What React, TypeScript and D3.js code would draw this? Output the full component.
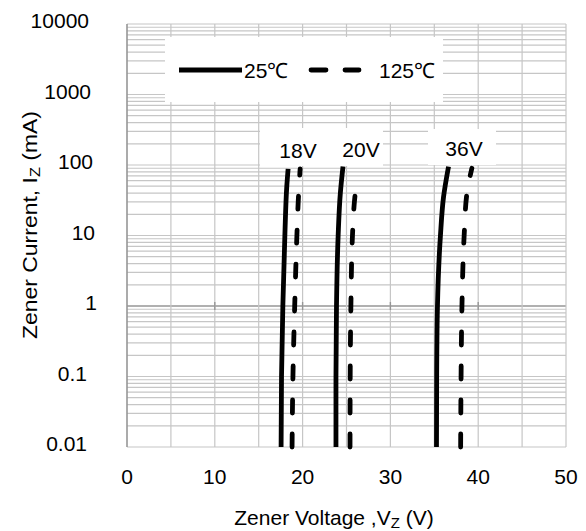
import React from 'react';
import * as d3 from 'd3';

// x ticks (V) and y decades (mA)
const xTicks = [0, 10, 20, 30, 40, 50];
const xGrid = [0, 5, 10, 15, 20, 25, 30, 35, 40, 45, 50];
const yDecades = [0.01, 0.1, 1, 10, 100, 1000, 10000];
const yLabels = ['0.01', '0.1', '1', '10', '100', '1000', '10000'];

// curves: [current mA, voltage V]
const v18_25 = [[0.01, 17.55], [0.1, 17.6], [1, 17.75], [10, 17.98], [50, 18.2], [88, 18.35]];
const v18_125 = [[0.01, 18.8], [0.1, 18.9], [1, 19.1], [10, 19.35], [30, 19.5], [88, 19.72]];
const v20_25 = [[0.01, 23.8], [0.1, 23.8], [1, 23.86], [10, 24.05], [40, 24.3], [95, 24.6]];
const v20_125 = [[0.01, 25.4], [0.1, 25.42], [1, 25.5], [10, 25.68], [30, 25.9], [65, 26.2]];
const v36_25 = [[0.01, 35.25], [0.1, 35.27], [1, 35.36], [10, 35.7], [35, 36.05], [95, 36.62]];
const v36_125 = [[0.01, 38.0], [0.1, 38.05], [1, 38.15], [10, 38.4], [40, 38.72], [90, 39.28]];

const solidCurves = [v18_25, v20_25, v36_25];
const dashedCurves = [v18_125, v20_125, v36_125];

const W = 586;
const H = 531;
const left = 127, right = 566, top = 24, bottom = 447;
const font = '"Liberation Sans", Arial, sans-serif';
const gridColor = '#c6c6c6';
const axisColor = '#969696';

export default function App() {
  const x = d3.scaleLinear().domain([0, 50]).range([left, right]);
  const y = d3.scaleLog().domain([0.01, 10000]).range([bottom, top]);

  const minor: number[] = [];
  yDecades.slice(0, -1).forEach(d => {
    for (let k = 2; k <= 9; k++) minor.push(d * k);
  });

  const line = d3.line<number[]>()
    .x(d => x(d[1]))
    .y(d => y(d[0]))
    .curve(d3.curveMonotoneY);

  // y labels: decimals end further left, integers drift right as they get shorter
  const labelX = (s: string) => (s.includes('.') ? 87 : 99 - 2 * s.length);

  return (
    <svg width={W} height={H} style={{ position: 'absolute', left: 0, top: 0, background: '#fff' }}>
      <rect width={W} height={H} fill="#fff" />
      {minor.map((v, i) => (
        <line key={'m' + i} x1={left} x2={right} y1={y(v)} y2={y(v)} stroke={gridColor} strokeWidth={1.2} />
      ))}
      {yDecades.map(v => (
        <line key={'d' + v} x1={left} x2={right} y1={y(v)} y2={y(v)}
          stroke={v === 1 ? axisColor : gridColor} strokeWidth={v === 1 ? 1.6 : 1.2} />
      ))}
      {xGrid.map(v => (
        <line key={'x' + v} x1={x(v)} x2={x(v)} y1={top} y2={bottom}
          stroke={v === 0 ? axisColor : gridColor} strokeWidth={v === 0 ? 1.6 : 1.2} />
      ))}
      {xTicks.slice(1, -1).map(v => (
        <line key={'t' + v} x1={x(v)} x2={x(v)} y1={y(1) - 4} y2={y(1) + 4} stroke={axisColor} strokeWidth={1.4} />
      ))}

      {solidCurves.map((c, i) => (
        <path key={'s' + i} d={line(c) || ''} fill="none" stroke="#000" strokeWidth={4.8} />
      ))}
      {dashedCurves.map((c, i) => (
        <path key={'h' + i} d={line(c) || ''} fill="none" stroke="#000" strokeWidth={4.8}
          strokeDasharray="13 21" strokeLinecap="round" />
      ))}

      {/* legend */}
      <rect x={165} y={37} width={278} height={65} fill="#fff" />
      <line x1={179} x2={242} y1={70} y2={70} stroke="#000" strokeWidth={4.8} />
      <text x={244} y={78} fontFamily={font} fontSize={21}>25℃</text>
      <line x1={311} x2={359} y1={70} y2={70} stroke="#000" strokeWidth={4.8}
        strokeDasharray="15 19" strokeLinecap="round" />
      <text x={379} y={78} fontFamily={font} fontSize={21}>125℃</text>

      {/* voltage labels */}
      <rect x={260} y={128} width={123} height={38} fill="#fff" />
      <rect x={428} y={129} width={68} height={36} fill="#fff" />
      <text x={298} y={158} textAnchor="middle" fontFamily={font} fontSize={21}>18V</text>
      <text x={361} y={157} textAnchor="middle" fontFamily={font} fontSize={21}>20V</text>
      <text x={464} y={156} textAnchor="middle" fontFamily={font} fontSize={21}>36V</text>

      {yDecades.map((v, i) => (
        <text key={'yl' + v} x={labelX(yLabels[i])} y={y(v) - 3} dy="0.35em"
          textAnchor="end" fontFamily={font} fontSize={21}>{yLabels[i]}</text>
      ))}
      {xTicks.map(v => (
        <text key={'xl' + v} x={x(v)} y={484} textAnchor="middle" fontFamily={font} fontSize={21}>{v}</text>
      ))}

      <text x={334} y={525} textAnchor="middle" fontFamily={font} fontSize={21}>
        Zener Voltage ,V<tspan fontSize={15} dy={3}>Z</tspan><tspan dy={-3}> (V)</tspan>
      </text>
      <text transform="translate(37,225) rotate(-90)" textAnchor="middle" fontFamily={font} fontSize={21}
        textLength={228} lengthAdjust="spacingAndGlyphs">
        Zener Current, I<tspan fontSize={15} dy={3}>Z</tspan><tspan dy={-3}> (mA)</tspan>
      </text>
    </svg>
  );
}
